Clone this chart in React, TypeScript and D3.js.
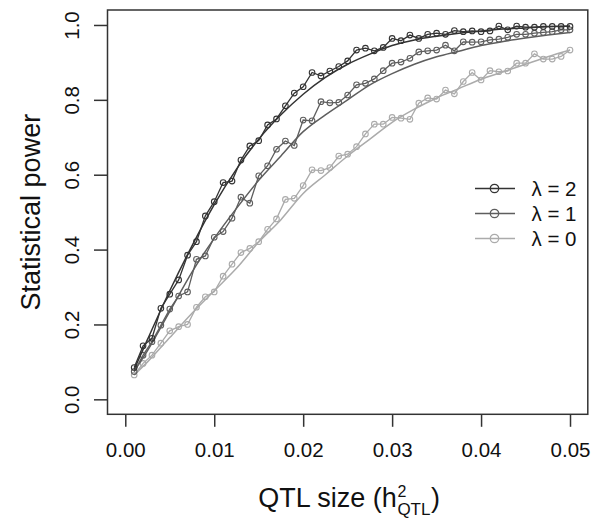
import React, { useRef, useEffect } from 'react';
import * as d3 from 'd3';

// QTL size grid of the simulation
const qtlSize = [
  0.001, 0.002, 0.003, 0.004, 0.005, 0.006, 0.007, 0.008, 0.009, 0.010,
  0.011, 0.012, 0.013, 0.014, 0.015, 0.016, 0.017, 0.018, 0.019, 0.020,
  0.021, 0.022, 0.023, 0.024, 0.025, 0.026, 0.027, 0.028, 0.029, 0.030,
  0.031, 0.032, 0.033, 0.034, 0.035, 0.036, 0.037, 0.038, 0.039, 0.040,
  0.041, 0.042, 0.043, 0.044, 0.045, 0.046, 0.047, 0.048, 0.049, 0.050,
];

// simulated power, lambda = 2 / 1 / 0
const powerL2 = [
  0.085, 0.143, 0.163, 0.243, 0.281, 0.319, 0.385, 0.421, 0.490, 0.528,
  0.579, 0.583, 0.639, 0.677, 0.691, 0.733, 0.749, 0.784, 0.818, 0.835,
  0.873, 0.864, 0.877, 0.889, 0.904, 0.933, 0.938, 0.931, 0.940, 0.964,
  0.958, 0.973, 0.964, 0.975, 0.978, 0.975, 0.985, 0.982, 0.984, 0.982,
  0.984, 0.997, 0.987, 0.997, 0.994, 0.994, 0.996, 0.996, 0.996, 0.996,
];
const powerL1 = [
  0.074, 0.118, 0.154, 0.198, 0.241, 0.276, 0.287, 0.374, 0.383, 0.433,
  0.448, 0.484, 0.540, 0.524, 0.597, 0.624, 0.668, 0.690, 0.678, 0.746,
  0.744, 0.795, 0.792, 0.793, 0.813, 0.840, 0.844, 0.856, 0.878, 0.898,
  0.901, 0.911, 0.928, 0.931, 0.933, 0.946, 0.931, 0.955, 0.954, 0.955,
  0.960, 0.962, 0.967, 0.975, 0.975, 0.978, 0.980, 0.982, 0.987, 0.987,
];
const powerL0 = [
  0.065, 0.096, 0.118, 0.150, 0.183, 0.194, 0.200, 0.246, 0.274, 0.287,
  0.329, 0.361, 0.392, 0.403, 0.421, 0.454, 0.482, 0.534, 0.537, 0.571,
  0.613, 0.611, 0.619, 0.650, 0.655, 0.675, 0.709, 0.735, 0.735, 0.753,
  0.751, 0.748, 0.791, 0.805, 0.802, 0.826, 0.816, 0.849, 0.873, 0.853,
  0.878, 0.875, 0.877, 0.898, 0.898, 0.923, 0.909, 0.909, 0.916, 0.933,
];

// theoretical power curves (no markers)
const curveSize = [
  0.001, 0.0025, 0.005, 0.0075, 0.01, 0.0125, 0.015, 0.0175, 0.02, 0.0225, 0.025,
  0.0275, 0.03, 0.0325, 0.035, 0.0375, 0.04, 0.0425, 0.045, 0.0475, 0.05,
];
const curveL2 = [
  0.08, 0.16, 0.29, 0.41, 0.52, 0.615, 0.695, 0.76, 0.815, 0.86, 0.895,
  0.922, 0.945, 0.96, 0.97, 0.978, 0.984, 0.989, 0.992, 0.995, 0.997,
];
const curveL1 = [
  0.075, 0.13, 0.235, 0.34, 0.43, 0.51, 0.585, 0.65, 0.715, 0.76, 0.80,
  0.84, 0.87, 0.895, 0.915, 0.93, 0.945, 0.956, 0.965, 0.973, 0.98,
];
const curveL0 = [
  0.065, 0.10, 0.165, 0.23, 0.29, 0.35, 0.42, 0.48, 0.55, 0.60, 0.65,
  0.695, 0.74, 0.775, 0.805, 0.83, 0.855, 0.875, 0.895, 0.915, 0.933,
];

const xTicks = [0, 0.01, 0.02, 0.03, 0.04, 0.05];
const yTicks = [0, 0.2, 0.4, 0.6, 0.8, 1.0];
const legendLabels = ['λ = 2', 'λ = 1', 'λ = 0'];
const colors = ['#333333', '#5e5e5e', '#ababab'];

const FONT = '"Liberation Sans", Arial, Helvetica, sans-serif';

const PowerChart = ({ width, height }) => {
  const svgRef = useRef(null);

  useEffect(() => {
    const svg = d3.select(svgRef.current);
    svg.selectAll('*').remove();

    const margin = { top: 10, right: 10.2, bottom: 103.7, left: 107.5 };
    const x = d3.scaleLinear().domain([-0.002, 0.052]).range([margin.left, width - margin.right]);
    const y = d3.scaleLinear().domain([-0.04, 1.04]).range([height - margin.bottom, margin.top]);

    const series = [
      { pts: powerL0, curve: curveL0, color: colors[2] },
      { pts: powerL1, curve: curveL1, color: colors[1] },
      { pts: powerL2, curve: curveL2, color: colors[0] },
    ];

    const jagged = d3.line().x(d => x(d[0])).y(d => y(d[1]));
    const smooth = d3.line().x(d => x(d[0])).y(d => y(d[1])).curve(d3.curveMonotoneX);

    series.forEach(s => {
      svg.append('path')
        .datum(curveSize.map((v, i) => [v, s.curve[i]]))
        .attr('fill', 'none')
        .attr('stroke', s.color)
        .attr('stroke-width', 1.5)
        .attr('d', smooth);

      const data = qtlSize.map((v, i) => [v, s.pts[i]]);
      svg.append('path')
        .datum(data)
        .attr('fill', 'none')
        .attr('stroke', s.color)
        .attr('stroke-width', 1.3)
        .attr('d', jagged);

      svg.append('g').selectAll('circle')
        .data(data)
        .enter().append('circle')
        .attr('cx', d => x(d[0]))
        .attr('cy', d => y(d[1]))
        .attr('r', 2.8)
        .attr('fill', 'none')
        .attr('stroke', s.color)
        .attr('stroke-width', 1.1);
    });

    // box
    svg.append('rect')
      .attr('x', x.range()[0])
      .attr('y', y.range()[1])
      .attr('width', x.range()[1] - x.range()[0])
      .attr('height', y.range()[0] - y.range()[1])
      .attr('fill', 'none')
      .attr('stroke', '#333')
      .attr('stroke-width', 1.5);

    // x axis
    const gx = svg.append('g')
      .attr('transform', `translate(0,${y.range()[0]})`)
      .call(d3.axisBottom(x).tickValues(xTicks).tickFormat(d3.format('.2f')).tickSize(12.5).tickPadding(15.2));
    gx.select('.domain').remove();
    gx.selectAll('line').attr('stroke', '#333').attr('stroke-width', 1.5);
    gx.selectAll('text').attr('font-family', FONT).attr('font-size', 20.5).attr('fill', '#111');

    // y axis
    const gy = svg.append('g')
      .attr('transform', `translate(${x.range()[0]},0)`)
      .call(d3.axisLeft(y).tickValues(yTicks).tickFormat(d3.format('.1f')).tickSize(13.5));
    gy.select('.domain').remove();
    gy.selectAll('line').attr('stroke', '#333').attr('stroke-width', 1.5);
    gy.selectAll('text')
      .attr('font-family', FONT).attr('font-size', 20.5).attr('fill', '#111')
      .attr('x', null).attr('dy', null)
      .attr('text-anchor', 'middle')
      .attr('transform', 'translate(-28.2,0) rotate(-90)');

    // y title
    svg.append('text')
      .attr('transform', `translate(40,${(y.range()[0] + y.range()[1]) / 2}) rotate(-90)`)
      .attr('text-anchor', 'middle')
      .attr('font-family', FONT)
      .attr('font-size', 27)
      .attr('fill', '#111')
      .text('Statistical power');

    // x title with stacked super/subscript
    const cx = (x.range()[0] + x.range()[1]) / 2 + 1.5;
    const base = 506.5;
    const t1 = svg.append('text').attr('font-family', FONT).attr('font-size', 27).attr('fill', '#111')
      .attr('y', base).text('QTL size (h');
    const sup = svg.append('text').attr('font-family', FONT).attr('font-size', 16).attr('fill', '#111')
      .attr('y', base - 10).text('2');
    const sub = svg.append('text').attr('font-family', FONT).attr('font-size', 17).attr('fill', '#111')
      .attr('y', base + 8).text('QTL');
    const t2 = svg.append('text').attr('font-family', FONT).attr('font-size', 27).attr('fill', '#111')
      .attr('y', base).text(')');
    const w1 = t1.node().getComputedTextLength();
    const wSub = Math.max(sub.node().getComputedTextLength(), sup.node().getComputedTextLength());
    const w2 = t2.node().getComputedTextLength();
    const x0 = cx - (w1 + wSub + 1 + w2) / 2;
    t1.attr('x', x0);
    sup.attr('x', x0 + w1 + 0.5);
    sub.attr('x', x0 + w1 + 0.5);
    t2.attr('x', x0 + w1 + wSub + 1);

    // legend
    const legend = svg.append('g');
    legendLabels.forEach((lab, i) => {
      const ly = 188.5 + i * 25;
      const col = colors[i];
      const row = legend.append('g').attr('transform', `translate(0,${ly})`);
      row.append('line').attr('x1', 475).attr('x2', 515).attr('y1', 0).attr('y2', 0)
        .attr('stroke', col).attr('stroke-width', 1.5);
      row.append('circle').attr('cx', 494.5).attr('cy', 0).attr('r', 4.2)
        .attr('fill', 'none').attr('stroke', col).attr('stroke-width', 1.3);
      row.append('text').attr('x', 531.5).attr('y', 7.5)
        .attr('font-family', FONT).attr('font-size', 20.5).attr('fill', '#111')
        .text(lab);
    });
  }, [width, height]);

  return (
    <svg ref={svgRef} width={width} height={height}
      style={{ position: 'absolute', left: 0, top: 0, background: '#fff' }} />
  );
};

export default function App() {
  return <PowerChart width={598} height={518} />;
}
